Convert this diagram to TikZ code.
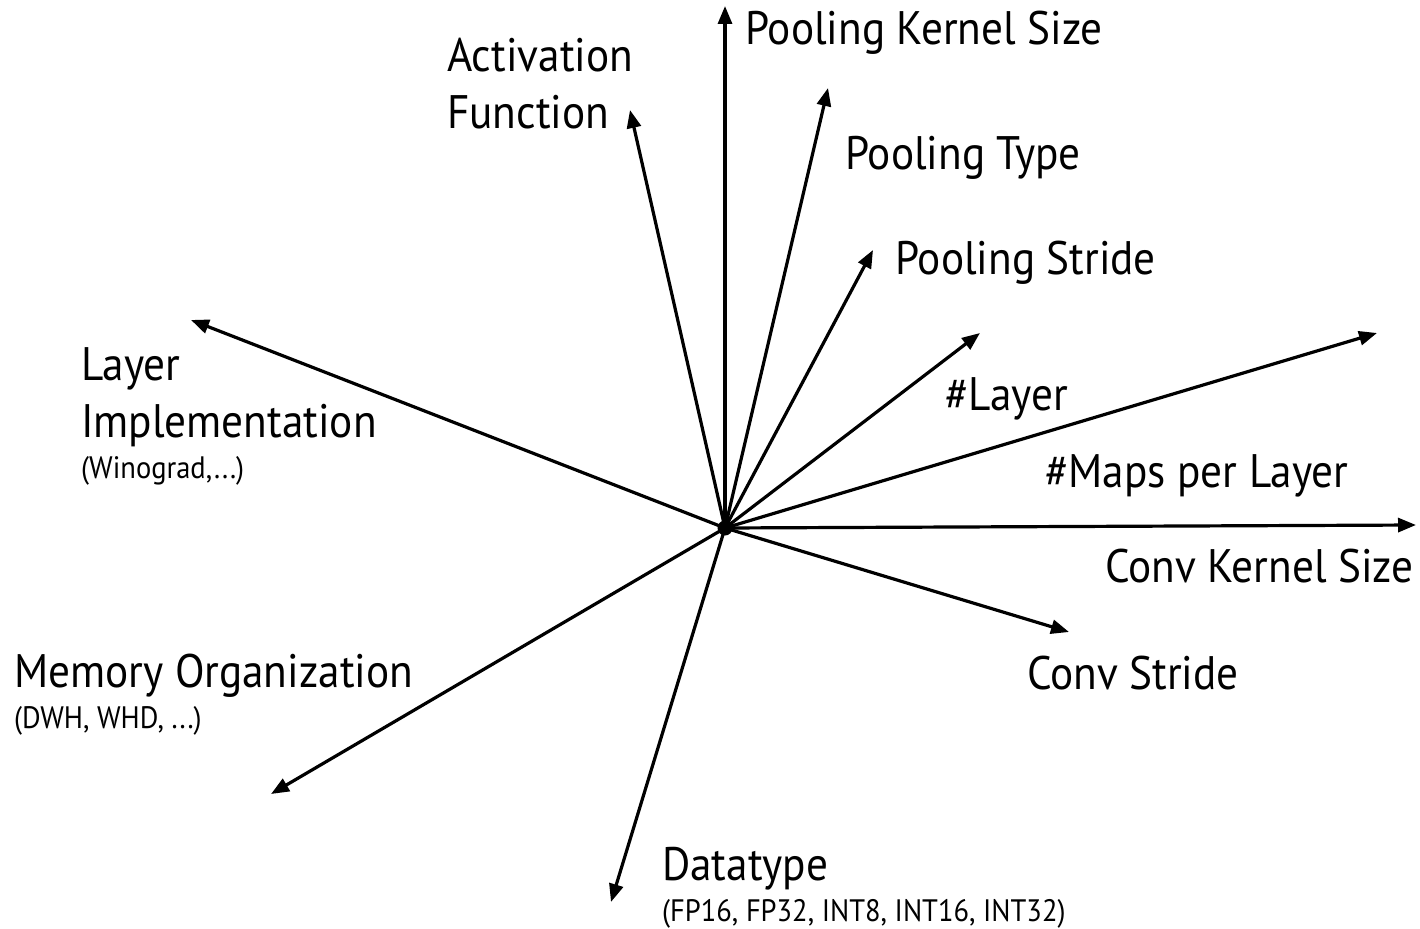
\documentclass[tikz,border=0pt]{standalone}
\usepackage{fontspec}
\setmainfont[FakeStretch=0.92]{PT Sans}
\usetikzlibrary{arrows.meta}
\begin{document}
\begin{tikzpicture}[x=1pt,y=-1pt,
  axis/.style={line width=3.2pt,-{Triangle[length=18pt,width=14pt]}},
  biglabel/.style={anchor=base west,inner sep=0pt,font=\fontsize{47}{56}\selectfont},
  smalllabel/.style={anchor=base west,inner sep=0pt,font=\fontsize{31}{37}\selectfont}]
\useasboundingbox (0,0) rectangle (1420,928);
% origin of all axes
\coordinate (o) at (725,528);
% axis tips
\coordinate (pks) at (725,6);
\coordinate (act) at (630,110);
\coordinate (ptype) at (828,88);
\coordinate (pstr) at (873,250);
\coordinate (nl) at (980,333);
\coordinate (nm) at (1377,333);
\coordinate (cks) at (1416,525);
\coordinate (cstr) at (1069,632);
\coordinate (dt) at (611,902);
\coordinate (mem) at (271,794);
\coordinate (limp) at (191,320);
\foreach \t in {pks,act,ptype,pstr,nl,nm,cks,cstr,dt,mem,limp}
  \draw[axis] (o) -- (\t);
\fill (o) circle (7.5pt);
% labels
\node[biglabel] (l1) at (745,45) {Pooling Kernel Size};
\node[biglabel] (l2a) at (447,72) {Activation};
\node[biglabel] (l2b) at (447,129) {Function};
\node[biglabel] (l3) at (845,170) {Pooling Type};
\node[biglabel] (l4) at (895,274) {Pooling Stride};
\node[biglabel] (l5) at (945,410) {\#Layer};
\node[biglabel] (l6) at (1045,487) {\#Maps per Layer};
\node[biglabel] (l7) at (1105,582) {Conv Kernel Size};
\node[biglabel] (l8) at (1027,689) {Conv Stride};
\node[biglabel] (l9a) at (81,380) {Layer};
\node[biglabel] (l9b) at (81,437) {Implementation};
\node[smalllabel] (l9c) at (81,478) {(Winograd,...)};
\node[biglabel] (l10a) at (14,687) {Memory Organization};
\node[smalllabel] (l10b) at (14,728) {(DWH, WHD, ...)};
\node[biglabel] (l11a) at (662,880) {Datatype};
\node[smalllabel] (l11b) at (662,921) {(FP16, FP32, INT8, INT16, INT32)};
\end{tikzpicture}
\end{document}
